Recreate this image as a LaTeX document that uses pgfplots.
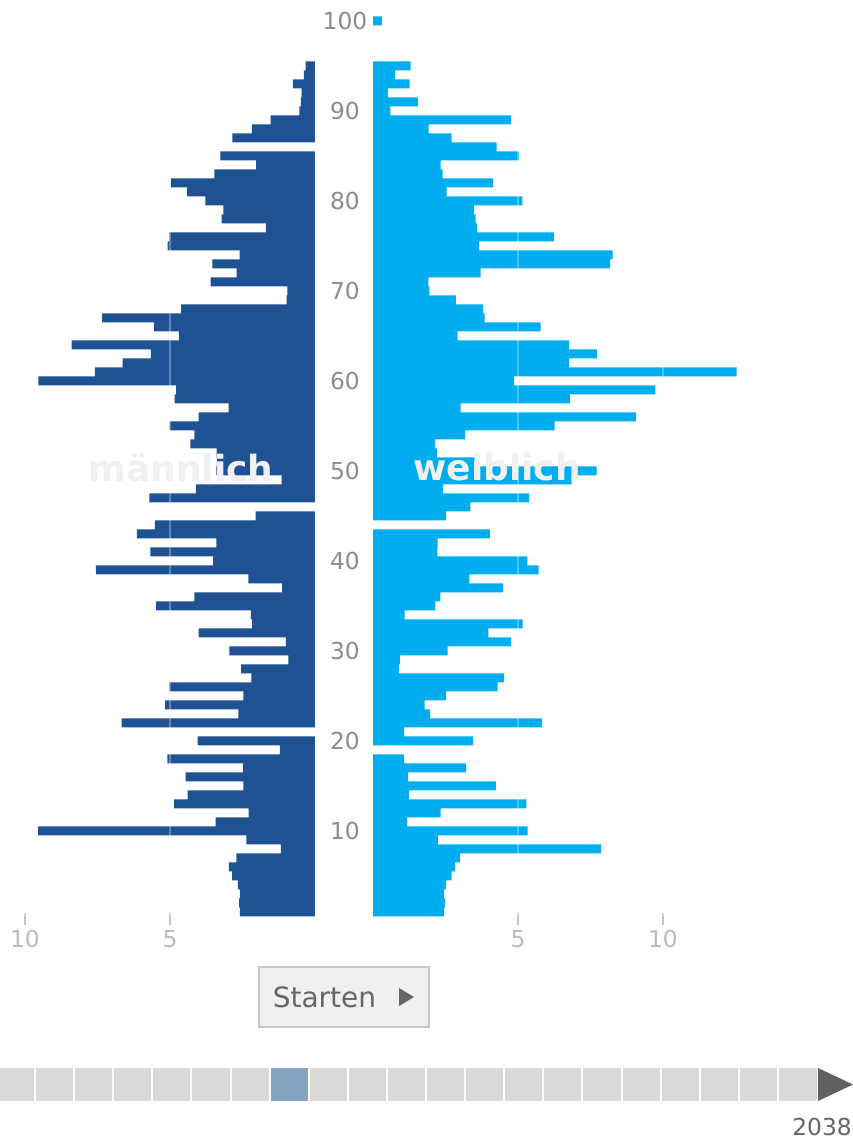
\documentclass[border=0pt]{standalone}
\usepackage{pgfplots}
\pgfplotsset{compat=1.18}
\usepackage{fontspec}
\setmainfont{DejaVu Sans}

\definecolor{male}{HTML}{1F5292}
\definecolor{female}{HTML}{00AEEF}
\definecolor{agegrey}{HTML}{8C8C8C}
\definecolor{tickgrey}{HTML}{BBBBBB}
\definecolor{tickmark}{HTML}{C4C4C4}
\definecolor{btnbg}{HTML}{F0F0F0}
\definecolor{btnline}{HTML}{C8C8C8}
\definecolor{darkgrey}{HTML}{666666}
\definecolor{arrowgrey}{HTML}{606060}
\definecolor{cell}{HTML}{D9D9D9}
\definecolor{cellon}{HTML}{87A3C4}

% 1 px of the reference = 0.75pt
\pgfplotsset{pyr/.style={
  xbar, bar width=1,
  x=21.75pt, y=6.75pt,
  ymin=0.5, ymax=100.5, xmin=0,
  axis line style={draw=none},
  xtick={5,10}, xtick pos=left,
  tick align=outside, major tick length=7pt,
  tick style={draw=none},
  xticklabel style={text=tickgrey, font=\fontsize{17.5}{20}\selectfont},
  /pgf/number format/assume math mode=true,
  xmajorgrids, grid style={draw=white, opacity=0.3, line width=1.1pt},
  axis on top, clip=false,
}}

\begin{document}
\begin{tikzpicture}
\path[use as bounding box] (0pt,0pt) rectangle (639.75pt,855pt);

% male
\begin{axis}[pyr, x dir=reverse, xmax=10.5, ytick=\empty,
  anchor=south east, at={(236.25pt,167.625pt)}]
\addplot[fill=male, draw=none] coordinates {
(2.59,1) (2.62,2) (2.59,3) (2.66,4) (2.86,5) (2.97,6) (2.71,7) (1.18,8) (2.37,9) (9.55,10)
(3.43,11) (2.29,12) (4.86,13) (4.39,14) (2.47,15) (4.46,16) (2.48,17) (5.09,18) (1.21,19) (4.05,20)
(6.67,22) (2.64,23) (5.17,24) (2.47,25) (5.02,26) (2.19,27) (2.55,28) (0.92,29) (2.95,30)
(1.00,31) (4.01,32) (2.17,33) (2.21,34) (5.48,35) (4.16,36) (1.13,37) (2.30,38) (7.56,39) (3.51,40)
(5.68,41) (3.40,42) (6.14,43) (5.52,44) (2.05,45) (5.71,47) (4.11,48) (1.15,49) (3.40,50)
(3.38,51) (3.39,52) (4.30,53) (4.16,54) (5.01,55) (4.01,56) (2.98,57) (4.84,58) (4.79,59) (9.54,60)
(7.59,61) (6.63,62) (5.66,63) (8.39,64) (4.69,65) (5.55,66) (7.34,67) (4.62,68) (0.98,69) (0.95,70)
(3.60,71) (2.70,72) (3.54,73) (2.60,74) (5.08,75) (5.02,76) (1.69,77) (3.22,78) (3.16,79) (3.78,80)
(4.41,81) (4.97,82) (3.47,83) (2.03,84) (3.26,85) (2.85,87) (2.18,88) (1.53,89) (0.54,90)
(0.49,91) (0.46,92) (0.76,93) (0.38,94) (0.32,95)
};
\draw[tickmark, line width=1.5pt] (axis cs:5,0.89) -- (axis cs:5,-0.44)
  (axis cs:10,0.89) -- (axis cs:10,-0.44);
\node[text=btnbg, font=\fontsize{27}{30}\selectfont\bfseries] at (axis cs:4.62,50.4) {männlich};
\end{axis}

% female
\begin{axis}[pyr, xmax=12.7,
  ytick={10,20,...,100}, ytick pos=left, yticklabel pos=left,
  yticklabel style={anchor=center, xshift=-14pt, text=agegrey, font=\fontsize{17.5}{20}\selectfont},
  anchor=south west, at={(279.75pt,167.625pt)}]
\addplot[fill=female, draw=none] coordinates {
(2.45,1) (2.48,2) (2.45,3) (2.52,4) (2.71,5) (2.83,6) (3.00,7) (7.86,8) (2.24,9) (5.33,10)
(1.18,11) (2.33,12) (5.29,13) (1.24,14) (4.24,15) (1.21,16) (3.20,17) (1.07,18) (3.44,20)
(1.07,21) (5.82,22) (1.97,23) (1.78,24) (2.52,25) (4.30,26) (4.52,27) (0.90,28) (0.93,29) (2.57,30)
(4.75,31) (3.98,32) (5.16,33) (1.09,34) (2.15,35) (2.32,36) (4.49,37) (3.32,38) (5.71,39) (5.32,40)
(2.22,41) (2.23,42) (4.03,43) (2.51,45) (3.36,46) (5.38,47) (2.42,48) (6.85,49) (7.71,50)
(3.50,51) (2.20,52) (2.14,53) (3.17,54) (6.26,55) (9.07,56) (3.02,57) (6.79,58) (9.74,59) (4.86,60)
(12.54,61) (6.76,62) (7.72,63) (6.76,64) (2.92,65) (5.78,66) (3.85,67) (3.80,68) (2.86,69) (1.94,70)
(1.91,71) (3.71,72) (8.17,73) (8.26,74) (3.66,75) (6.24,76) (3.59,77) (3.54,78) (3.48,79) (5.15,80)
(2.54,81) (4.13,82) (2.40,83) (2.33,84) (5.03,85) (4.26,86) (2.71,87) (1.92,88) (4.75,89) (0.60,90)
(1.55,91) (0.51,92) (1.26,93) (0.76,94) (1.30,95) (0.31,100)
};
\draw[tickmark, line width=1.5pt] (axis cs:5,0.89) -- (axis cs:5,-0.44)
  (axis cs:10,0.89) -- (axis cs:10,-0.44);
\node[text=btnbg, font=\fontsize{27}{30}\selectfont\bfseries] at (axis cs:4.28,50.4) {weiblich};
\end{axis}

\begin{scope}[x=0.75pt,y=0.75pt]
% start button
\path[fill=btnbg, draw=btnline, line width=1.1pt] (259,113) rectangle (429,173);
\node[anchor=base, inner sep=0, text=darkgrey, font=\fontsize{21}{24}\selectfont] at (324.5,132) {Starten};
\fill[darkgrey] (399,134) -- (399,152) -- (414,143) -- cycle;

% time slider
\fill[cell] (0,39) rectangle (817,72);
\fill[cellon] (269.6,39) rectangle (308.7,72);
\foreach \i in {0,...,19} {
  \draw[white, line width=1.5pt] ({35+39.1*\i},39) -- ({35+39.1*\i},72);
}
\fill[arrowgrey] (818,39) -- (818,72) -- (853,55.5) -- cycle;
\node[anchor=base east, inner sep=0, text=darkgrey, font=\fontsize{17.5}{20}\selectfont] at (852,4) {2038};
\end{scope}
\end{tikzpicture}
\end{document}
